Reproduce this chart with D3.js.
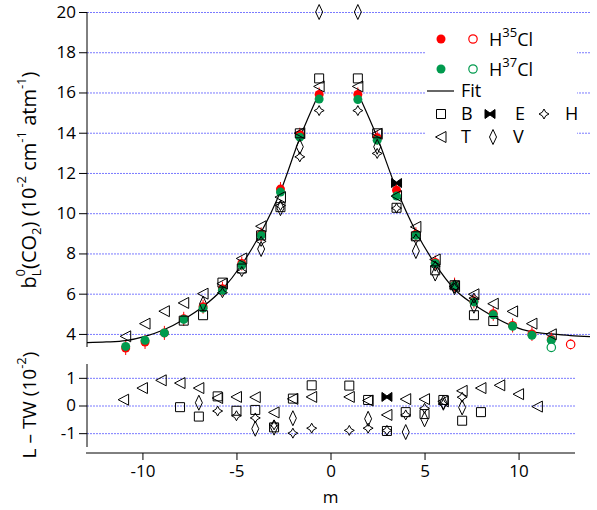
<!DOCTYPE html>
<html>
<head>
<meta charset="utf-8">
<script src="https://cdn.jsdelivr.net/npm/d3@7"></script>
<style>
  body { margin: 0; background: #fff; }
  text { font-family: "Open Sans", "DejaVu Sans", sans-serif; }
</style>
</head>
<body>
<div id="chart"></div>
<script>
// ---- data ----
var fitM   = [-13, -12, -11, -10, -9, -8, -7, -6, -5, -4, -3, -2, -1];
var fitL   = [3.57, 3.6, 3.67, 3.88, 4.22, 4.72, 5.36, 6.22, 7.45, 9.05, 11.08, 13.74, 15.97];
var fitMR  = [1, 2, 3, 4, 5, 6, 7, 8, 9, 10, 11, 12, 13];
var fitR   = [15.97, 13.77, 11.19, 9.09, 7.47, 6.22, 5.46, 4.87, 4.39, 4.1, 4.0, 3.92, 3.87];

var hclM   = [-11, -10, -9, -8, -7, -6, -5, -4, -3, -2, -1, 1, 2, 3, 4, 5, 6, 7, 8, 9, 10, 11];
var h35    = [3.3, 3.6, 4.05, 4.75, 5.35, 6.25, 7.5, 8.95, 11.2, 13.9, 15.9, 15.9, 13.75, 11.14, 8.95, 7.55, 6.45, 5.62, 5.0, 4.42, 4.0, 3.72];
var h37    = [3.38, 3.68, 4.05, 4.72, 5.28, 6.17, 7.42, 8.9, 11.05, 13.78, 15.67, 15.65, 13.63, 10.85, 8.9, 7.5, 6.42, 5.59, 4.95, 4.38, 3.93, 3.68];
var h35Err = 0.15;
var open35 = [[12, 3.48]];
var open37 = [[11, 3.33]];

var bM   = [-8, -7, -6, -5, -4, -3, -2, -1, 1, 2, 3, 4, 5, 6, 7, 8];
var bTop = [4.66, 4.93, 6.55, 7.25, 8.9, 10.3, 13.97, 16.7, 16.7, 13.97, 10.27, 8.85, 7.16, 6.42, 4.93, 4.64];
var bRes = [-0.06, -0.4, 0.33, -0.19, -0.16, -0.79, 0.25, 0.73, 0.72, 0.2, -0.92, -0.24, -0.31, 0.2, -0.55, -0.24];

var eM   = [3];
var eTop = [11.5];
var eRes = [0.31];

var hM   = [-6, -5, -4, -3, -2, -1, 1, 2, 3, 4, 5, 6, 7];
var hTop = [6.05, 7.1, 8.6, 10.38, 12.8, 15.1, 15.1, 12.97, 10.25, 8.72, 7.37, 6.28, 5.78];
var hRes = [-0.2, -0.37, -0.45, -0.7, -1.0, -0.82, -0.9, -0.82, -0.9, -0.34, -0.1, 0.05, 0.3];

var tM   = [-11, -10, -9, -8, -7, -6, -5, -4, -3, -2, -1, 1, 2, 3, 4, 5, 6, 7, 8, 9, 10, 11];
var tTop = [3.88, 4.51, 5.13, 5.54, 6.0, 6.5, 7.75, 9.35, 10.8, 13.98, 16.3, 16.3, 13.95, 10.85, 9.32, 7.7, 6.37, 5.97, 5.5, 5.12, 4.51, 3.98];
var tRes = [0.21, 0.63, 0.91, 0.81, 0.63, 0.27, 0.31, 0.3, -0.25, 0.24, 0.31, 0.31, 0.18, -0.34, 0.23, 0.23, 0.15, 0.53, 0.63, 0.73, 0.41, -0.04];

var vM   = [-7, -4, -3, -2, -1, 1, 2, 4, 5, 6, 7];
var vTop = [5.5, 8.22, 10.25, 13.3, 20.0, 20.0, 13.3, 8.12, 7.0, 6.32, 5.4];
var vRes = [0.1, -0.84, -0.8, -0.46, null, null, -0.48, -0.96, -0.5, 0.1, -0.07];

var yTicksTop = [4, 6, 8, 10, 12, 14, 16, 18, 20];
var yTicksRes = [-1, 0, 1];
var xTicks    = [-10, -5, 0, 5, 10];

// ---- layout ----
var W = 597, H = 510;
var svg = d3.select("#chart").append("svg").attr("width", W).attr("height", H);

var xTop = d3.scaleLinear().domain([-13, 13]).range([87, 590]);
var yTop = d3.scaleLinear().domain([3.35, 20]).range([347, 12]);
var xBot = d3.scaleLinear().domain([-13, 13]).range([86, 575]);
var yBot = d3.scaleLinear().domain([-1.5, 1.5]).range([447, 364]);

var red = "#ff0000", green = "#009a4e", gridCol = "#7a7aff";
var fmt = d => String(d);

// grid
svg.append("g").selectAll("line").data(yTicksTop).enter().append("line")
    .attr("x1", 87).attr("x2", 590)
    .attr("y1", d => yTop(d) + 0.5).attr("y2", d => yTop(d) + 0.5)
    .attr("stroke", gridCol).attr("stroke-width", 1).attr("stroke-dasharray", "2,1");
svg.append("g").selectAll("line").data(yTicksRes).enter().append("line")
    .attr("x1", 87).attr("x2", 575)
    .attr("y1", d => yBot(d) + 0.5).attr("y2", d => yBot(d) + 0.5)
    .attr("stroke", gridCol).attr("stroke-width", 1).attr("stroke-dasharray", "2,1");

// legend backdrop (hides grid)
svg.append("rect").attr("x", 425).attr("y", 24).attr("width", 152).attr("height", 124).attr("fill", "#fff");

// axes
var axL = svg.append("g").attr("transform", "translate(87,0)")
    .call(d3.axisLeft(yTop).tickValues(yTicksTop).tickSize(8).tickPadding(3).tickFormat(fmt));
var axR = svg.append("g").attr("transform", "translate(87,0)")
    .call(d3.axisLeft(yBot).tickValues(yTicksRes).tickSize(8).tickPadding(3).tickFormat(fmt));
var axB = svg.append("g").attr("transform", "translate(0,453)")
    .call(d3.axisBottom(xBot).tickValues(xTicks).tickSize(7).tickPadding(5).tickFormat(fmt));
[axL, axR, axB].forEach(function (g) {
    g.attr("font-size", 17).attr("font-family", '"Open Sans", sans-serif');
    g.selectAll("text").style("font-size", "17px").attr("fill", "#000");
    g.selectAll("line, path").attr("stroke", "#000");
});
axL.select(".domain").attr("d", "M0,12V347");
axR.select(".domain").attr("d", "M0,364V447");
axB.select(".domain").attr("d", "M86,0H575");

// fit curves
var line = d3.line().x(d => xTop(d[0])).y(d => yTop(d[1])).curve(d3.curveMonotoneX);
svg.append("path").attr("d", line(d3.zip(fitM, fitL))).attr("fill", "none").attr("stroke", "#000").attr("stroke-width", 1.2);
svg.append("path").attr("d", line(d3.zip(fitMR, fitR))).attr("fill", "none").attr("stroke", "#000").attr("stroke-width", 1.2);

// ---- marker shapes ----
function shape(kind) {
    if (kind == "square") return "M-4.5,-4.5H4.5V4.5H-4.5Z";
    if (kind == "tri") return "M-5.5,0L5,-5.5L5,5.5Z";
    if (kind == "bow") return "M-5,-4.5L0,-1L5,-4.5L5,4.5L0,1L-5,4.5Z";
    if (kind == "vdia") return "M0,-7.5L3.5,0L0,7.5L-3.5,0Z";
    if (kind == "hdia") return "M0,-5Q1,-1 5,0Q1,1 0,5Q-1,1 -5,0Q-1,-1 0,-5Z";
}
function drawMarks(g, xs, ys, kind, xsc, ysc) {
    var pts = d3.zip(xs, ys).filter(d => d[1] != null);
    g.append("g").selectAll("path").data(pts).enter().append("path")
        .attr("transform", d => "translate(" + xsc(d[0]) + "," + ysc(d[1]) + ")")
        .attr("d", shape(kind))
        .attr("fill", kind == "bow" ? "#000" : "none")
        .attr("stroke", "#000").attr("stroke-width", 1);
}

// HCl points
var topG = svg.append("g");
topG.append("g").selectAll("line").data(d3.zip(hclM, h35)).enter().append("line")
    .attr("x1", d => xTop(d[0])).attr("x2", d => xTop(d[0]))
    .attr("y1", d => yTop(d[1] - h35Err) + 4).attr("y2", d => yTop(d[1] + h35Err) - 4)
    .attr("stroke", red).attr("stroke-width", 1);
topG.append("g").selectAll("circle").data(d3.zip(hclM, h35)).enter().append("circle")
    .attr("cx", d => xTop(d[0])).attr("cy", d => yTop(d[1])).attr("r", 4.5).attr("fill", red);
topG.append("g").selectAll("circle").data(d3.zip(hclM, h37)).enter().append("circle")
    .attr("cx", d => xTop(d[0])).attr("cy", d => yTop(d[1])).attr("r", 4.5).attr("fill", green);
topG.append("g").selectAll("g").data(open35).enter().append("g").each(function (d) {
    var g = d3.select(this);
    g.append("line").attr("x1", xTop(d[0])).attr("x2", xTop(d[0]))
        .attr("y1", yTop(d[1] - 0.25)).attr("y2", yTop(d[1] + 0.25)).attr("stroke", red);
    g.append("circle").attr("cx", xTop(d[0])).attr("cy", yTop(d[1])).attr("r", 4.2)
        .attr("fill", "#fff").attr("stroke", red).attr("stroke-width", 1.2);
});
topG.append("g").selectAll("circle").data(open37).enter().append("circle")
    .attr("cx", d => xTop(d[0])).attr("cy", d => yTop(d[1])).attr("r", 4.2)
    .attr("fill", "#fff").attr("stroke", green).attr("stroke-width", 1.2);

drawMarks(topG, bM, bTop, "square", xTop, yTop);
drawMarks(topG, tM, tTop, "tri", xTop, yTop);
drawMarks(topG, vM, vTop, "vdia", xTop, yTop);
drawMarks(topG, hM, hTop, "hdia", xTop, yTop);
drawMarks(topG, eM, eTop, "bow", xTop, yTop);

// residuals
var botG = svg.append("g");
drawMarks(botG, tM, tRes, "tri", xBot, yBot);
drawMarks(botG, bM, bRes, "square", xBot, yBot);
drawMarks(botG, vM, vRes, "vdia", xBot, yBot);
drawMarks(botG, hM, hRes, "hdia", xBot, yBot);
drawMarks(botG, eM, eRes, "bow", xBot, yBot);

// ---- legend ----
var lg = svg.append("g").attr("font-size", 18);
lg.append("circle").attr("cx", 441).attr("cy", 39).attr("r", 4.5).attr("fill", red);
lg.append("circle").attr("cx", 473).attr("cy", 39).attr("r", 4.2).attr("fill", "none").attr("stroke", red).attr("stroke-width", 1.2);
var t1 = lg.append("text").attr("x", 489).attr("y", 46);
t1.append("tspan").text("H");
t1.append("tspan").attr("dy", -9).attr("font-size", 13).text("35");
t1.append("tspan").attr("dy", 9).text("Cl");
lg.append("circle").attr("cx", 441).attr("cy", 69).attr("r", 4.5).attr("fill", green);
lg.append("circle").attr("cx", 473).attr("cy", 69).attr("r", 4.2).attr("fill", "none").attr("stroke", green).attr("stroke-width", 1.2);
var t2 = lg.append("text").attr("x", 489).attr("y", 76);
t2.append("tspan").text("H");
t2.append("tspan").attr("dy", -9).attr("font-size", 13).text("37");
t2.append("tspan").attr("dy", 9).text("Cl");
lg.append("line").attr("x1", 427).attr("x2", 454).attr("y1", 91).attr("y2", 91).attr("stroke", "#000").attr("stroke-width", 1.2);
lg.append("text").attr("x", 461).attr("y", 97).text("Fit");
var legRows = [
    ["square", 441, 114, "B", 461], ["bow", 490, 114, "E", 515], ["hdia", 544, 114, "H", 565],
    ["tri", 441, 137, "T", 461], ["vdia", 493, 137, "V", 513]
];
legRows.forEach(function (r) {
    lg.append("path").attr("transform", "translate(" + r[1] + "," + r[2] + ")").attr("d", shape(r[0]))
        .attr("fill", r[0] == "bow" ? "#000" : "none").attr("stroke", "#000");
    lg.append("text").attr("x", r[4]).attr("y", r[2] + 6).text(r[3]);
});

// ---- axis titles ----
var yl = svg.append("text").attr("transform", "translate(36,180) rotate(-90)")
    .attr("text-anchor", "middle").attr("font-size", 20);
yl.append("tspan").text("b");
yl.append("tspan").attr("font-size", 13).attr("dy", 5).text("L");
yl.append("tspan").attr("font-size", 13).attr("dy", -16).attr("dx", -7).text("0");
yl.append("tspan").attr("dy", 11).text("(CO");
yl.append("tspan").attr("font-size", 13).attr("dy", 5).text("2");
yl.append("tspan").attr("dy", -5).text(") (10");
yl.append("tspan").attr("font-size", 13).attr("dy", -10).text("-2");
yl.append("tspan").attr("dy", 10).text(" cm");
yl.append("tspan").attr("font-size", 13).attr("dy", -10).text("-1");
yl.append("tspan").attr("dy", 10).text(" atm");
yl.append("tspan").attr("font-size", 13).attr("dy", -10).text("-1");
yl.append("tspan").attr("dy", 10).text(")");

var rl = svg.append("text").attr("transform", "translate(36,405) rotate(-90)")
    .attr("text-anchor", "middle").attr("font-size", 19);
rl.append("tspan").text("L \u2013 TW (10");
rl.append("tspan").attr("font-size", 13).attr("dy", -10).text("-2");
rl.append("tspan").attr("dy", 10).text(")");

svg.append("text").attr("x", xBot(0)).attr("y", 503).attr("text-anchor", "middle").attr("font-size", 17).text("m");
</script>
</body>
</html>
